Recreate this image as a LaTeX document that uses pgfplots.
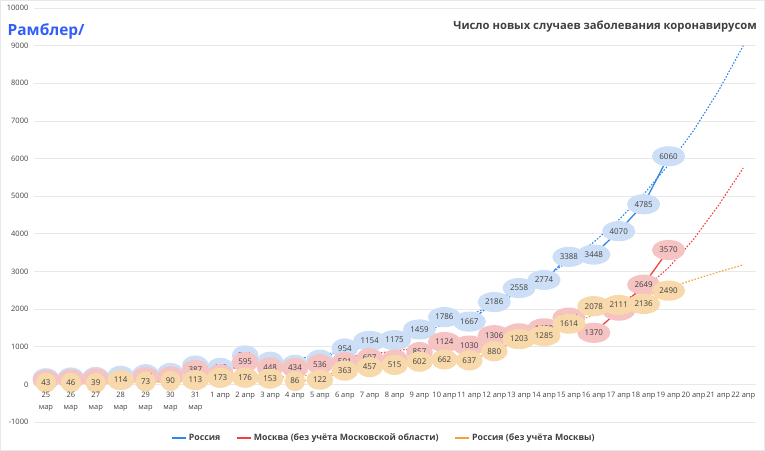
\documentclass[border=0pt]{standalone}
\usepackage{fontspec}
\setmainfont{Open Sans}
\usepackage{pgfplots}
\usepackage{pgfplotstable}
\pgfplotsset{compat=1.18}
\usetikzlibrary{shapes.geometric}
\definecolor{cBlue}{HTML}{2E86EA}
\definecolor{cRed}{HTML}{F2413D}
\definecolor{cOrange}{HTML}{F8A031}
\definecolor{fBlue}{HTML}{CCDFF6}
\definecolor{fRed}{HTML}{F6C3C3}
\definecolor{fOrange}{HTML}{F8D9AC}
\definecolor{txt}{HTML}{404040}
\definecolor{gridc}{HTML}{E8E8E8}
\definecolor{rambler}{HTML}{315EFB}

\pgfplotstableread{
x y
0 163
1 182
2 196
3 228
4 270
5 302
6 500
7 440
8 771
9 601
10 520
11 658
12 954
13 1154
14 1175
15 1459
16 1786
17 1667
18 2186
19 2558
20 2774
21 3388
22 3448
23 4070
24 4785
25 6060
}\rus
\pgfplotstableread{
x y
0 120
1 136
2 157
3 114
4 197
5 212
6 387
7 267
8 595
9 448
10 434
11 536
12 591
13 697
14 660
15 857
16 1124
17 1030
18 1306
19 1355
20 1489
21 1774
22 1370
23 1959
24 2649
25 3570
}\mos
\pgfplotstableread{
x y
0 43
1 46
2 39
3 114
4 73
5 90
6 113
7 173
8 176
9 153
10 86
11 122
12 363
13 457
14 515
15 602
16 662
17 637
18 880
19 1203
20 1285
21 1614
22 2078
23 2111
24 2136
25 2490
}\oth
\pgfplotstableread{
x rus mos oth
0 157 150 40
1 182 170 35
2 210 195 35
3 243 225 40
4 280 260 50
5 324 300 65
6 374 345 85
7 433 395 110
8 500 450 140
9 578 510 175
10 667 575 215
11 771 645 265
12 891 720 325
13 1030 800 395
14 1190 885 475
15 1375 975 565
16 1589 1075 670
17 1836 1185 800
18 2121 1310 960
19 2451 1450 1150
20 2832 1600 1370
21 3272 1750 1600
22 3781 1920 1840
23 4369 2150 2080
24 5049 2520 2320
25 5834 3100 2560
26 6741 3850 2780
27 7789 4750 2985
28 9000 5750 3175
}\trend

\begin{document}
\begin{tikzpicture}
\useasboundingbox (-33.5bp,-29bp) rectangle (731.5bp,422bp);
\draw[gridc, line width=0.8bp] (-33bp,-28.5bp) rectangle (731bp,421.5bp);
\begin{axis}[
  at={(0,0)}, anchor=south west,
  scale only axis, width=722.2bp, height=414bp,
  xmin=-0.5, xmax=28.5, ymin=-1000, ymax=10000,
  axis x line*=middle, axis y line*=left,
  x axis line style={draw=gridc, line width=0.8bp},
  y axis line style={draw=none},
  scaled y ticks=false,
  ytick={-1000,0,1000,2000,3000,4000,5000,6000,7000,8000,9000,10000},
  ymajorgrids, grid style={draw=gridc, line width=0.8bp},
  major tick length=0pt,
  xtick={0,...,28},
  xticklabels={},
  y tick label style={font=\fontsize{7.5}{9}\selectfont, text=txt, inner sep=1bp, xshift=-4bp},
  /pgf/number format/1000 sep={},
  /pgf/number format/assume math mode=true,
  legend columns=3,
  legend style={at={(0.4853,-0.0386)}, anchor=center, draw=none, fill=none,
    font=\bfseries\fontsize{8.8}{10}\selectfont, text=txt,
    /tikz/every even column/.append style={column sep=14bp}, inner sep=0pt},
  legend image code/.code={\draw[#1,line width=1.6bp] (0bp,0bp) -- (14bp,0bp);},
  clip=false,
  lbl/.style={forget plot, draw=none, mark=none, nodes near coords, every node near coord/.append style={ellipse, fill=#1, anchor=center,
     inner xsep=2.6bp, inner ysep=4.2bp, font=\fontsize{8}{9}\selectfont, text=txt}},
  dashpart/.style={forget plot, #1, line width=1.2bp, mark=none, dash pattern=on 3bp off 1.6bp, restrict x to domain=0:22},
  solidpart/.style={#1, line width=1.3bp, mark=none, solid, restrict x to domain=22:25},
  trendst/.style={forget plot, line width=1.1bp, dash pattern=on 1.6bp off 1.6bp, #1},
]
% Russia
\addplot[lbl=fBlue] table[x=x,y=y]{\rus};
\addplot[dashpart=cBlue] table[x=x,y=y]{\rus};
\addplot[solidpart=cBlue] table[x=x,y=y]{\rus};
\addlegendentry{Россия}
\addplot[trendst=cBlue] table[x=x,y=rus]{\trend};
% Moscow
\addplot[lbl=fRed] table[x=x,y=y]{\mos};
\addplot[dashpart=cRed] table[x=x,y=y]{\mos};
\addplot[solidpart=cRed] table[x=x,y=y]{\mos};
\addlegendentry{Москва (без учёта Московской области)}
\addplot[trendst=cRed] table[x=x,y=mos]{\trend};
% Russia without Moscow
\addplot[lbl=fOrange] table[x=x,y=y]{\oth};
\addplot[dashpart=cOrange] table[x=x,y=y]{\oth};
\addplot[solidpart=cOrange] table[x=x,y=y]{\oth};
\addlegendentry{Россия (без учёта Москвы)}
\addplot[trendst=cOrange] table[x=x,y=oth]{\trend};
\end{axis}
\foreach \i/\l in {0/{25\\мар},1/{26\\мар},2/{27\\мар},3/{28\\мар},4/{29\\мар},5/{30\\мар},6/{31\\мар},
  7/{1 апр},8/{2 апр},9/{3 апр},10/{4 апр},11/{5 апр},12/{6 апр},13/{7 апр},14/{8 апр},15/{9 апр},
  16/{10 апр},17/{11 апр},18/{12 апр},19/{13 апр},20/{14 апр},21/{15 апр},22/{16 апр},23/{17 апр},
  24/{18 апр},25/{19 апр},26/{20 апр},27/{21 апр},28/{22 апр}}
  \node[anchor=north, align=center, font=\fontsize{7.5}{12.5}\selectfont, text=txt, inner sep=0pt]
    at ({(\i+0.5)*24.9034bp},30.5bp) {\l};
\node[anchor=east, font=\bfseries\fontsize{11.3}{13}\selectfont, text=txt, inner sep=0pt] at (723.5bp,395bp) {Число новых случаев заболевания коронавирусом};
\node[anchor=west, font=\bfseries\fontsize{15.5}{17}\selectfont, text=rambler, inner sep=0pt] at (-26bp,391bp) {Рамблер/};
\end{tikzpicture}
\end{document}
